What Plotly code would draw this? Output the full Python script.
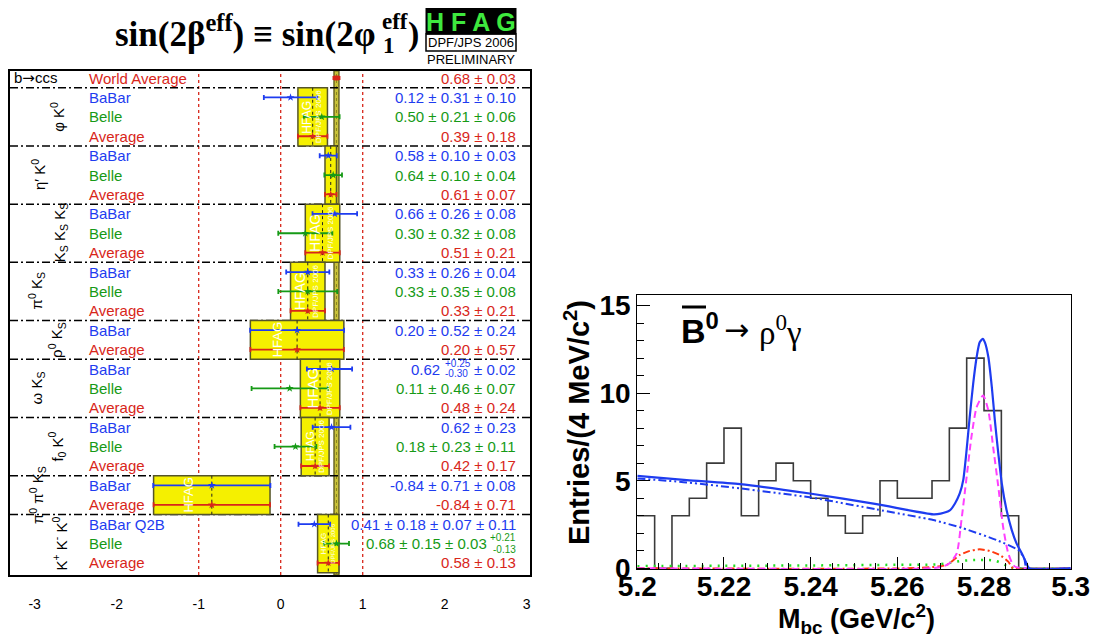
import math
import plotly.graph_objects as go

W, H = 1099, 636
OFF = 8  # page body margin offset of the rendered div
def px(x): return (x - OFF) / W
def py(y): return 1 - (y - OFF) / H

BLUE = "#1e3cf0"
GREEN = "#169a16"
RED = "#d8261a"
YELLOW = "#f5f000"
SRC_COLOR = {"babar": BLUE, "belle": GREEN, "avg": RED}
FONT = "Liberation Sans"
SERIF = "Liberation Serif"

# ---------------- left panel data ----------------
row_labels = ["World Average",
              "BaBar", "Belle", "Average",
              "BaBar", "Belle", "Average",
              "BaBar", "Belle", "Average",
              "BaBar", "Belle", "Average",
              "BaBar", "Average",
              "BaBar", "Belle", "Average",
              "BaBar", "Belle", "Average",
              "BaBar", "Average",
              "BaBar Q2B", "Belle", "Average"]
row_source = ["avg",
              "babar", "belle", "avg",
              "babar", "belle", "avg",
              "babar", "belle", "avg",
              "babar", "belle", "avg",
              "babar", "avg",
              "babar", "belle", "avg",
              "babar", "belle", "avg",
              "babar", "avg",
              "babar", "belle", "avg"]
row_value = [0.68,
             0.12, 0.50, 0.39,
             0.58, 0.64, 0.61,
             0.66, 0.30, 0.51,
             0.33, 0.33, 0.33,
             0.20, 0.20,
             0.62, 0.11, 0.48,
             0.62, 0.18, 0.42,
             -0.84, -0.84,
             0.41, 0.68, 0.58]
stat_plus = [0.03,
             0.31, 0.21, 0.18,
             0.10, 0.10, 0.07,
             0.26, 0.32, 0.21,
             0.26, 0.35, 0.21,
             0.52, 0.57,
             0.25, 0.46, 0.24,
             0.23, 0.23, 0.17,
             0.71, 0.71,
             0.18, 0.15, 0.13]
stat_minus = [0.03,
              0.31, 0.21, 0.18,
              0.10, 0.10, 0.07,
              0.26, 0.32, 0.21,
              0.26, 0.35, 0.21,
              0.52, 0.57,
              0.30, 0.46, 0.24,
              0.23, 0.23, 0.17,
              0.71, 0.71,
              0.18, 0.15, 0.13]
syst = [0.0,
        0.10, 0.06, 0.0,
        0.03, 0.04, 0.0,
        0.08, 0.08, 0.0,
        0.04, 0.08, 0.0,
        0.24, 0.0,
        0.02, 0.07, 0.0,
        0.0, 0.11, 0.0,
        0.08, 0.0,
        0.07, 0.03, 0.0]
value_text = ["0.68 ± 0.03",
              "0.12 ± 0.31 ± 0.10", "0.50 ± 0.21 ± 0.06", "0.39 ± 0.18",
              "0.58 ± 0.10 ± 0.03", "0.64 ± 0.10 ± 0.04", "0.61 ± 0.07",
              "0.66 ± 0.26 ± 0.08", "0.30 ± 0.32 ± 0.08", "0.51 ± 0.21",
              "0.33 ± 0.26 ± 0.04", "0.33 ± 0.35 ± 0.08", "0.33 ± 0.21",
              "0.20 ± 0.52 ± 0.24", "0.20 ± 0.57",
              None, "0.11 ± 0.46 ± 0.07", "0.48 ± 0.24",
              "0.62 ± 0.23", "0.18 ± 0.23 ± 0.11", "0.42 ± 0.17",
              "-0.84 ± 0.71 ± 0.08", "-0.84 ± 0.71",
              "0.41 ± 0.18 ± 0.07 ± 0.11", None, "0.58 ± 0.13"]
# rows whose value text carries stacked asymmetric errors
special_main = {15: "0.62", 24: "0.68 ± 0.15 ± 0.03"}
special_stack = {15: ("+0.25", "-0.30"), 24: ("+0.21", "-0.13")}
special_tail = {15: "± 0.02", 24: ""}

group_labels = ["φ K<sup>0</sup>", "η′ K<sup>0</sup>",
                "K<sub>S</sub> K<sub>S</sub> K<sub>S</sub>",
                "π<sup>0</sup> K<sub>S</sub>", "ρ<sup>0</sup> K<sub>S</sub>",
                "ω K<sub>S</sub>", "f<sub>0</sub> K<sup>0</sup>",
                "π<sup>0</sup> π<sup>0</sup> K<sub>S</sub>",
                "K<sup>+</sup> K<sup>-</sup> K<sup>0</sup>"]
group_sizes = [3, 3, 3, 3, 2, 3, 3, 2, 3]
group_label_px = [58, 38, 60, 36, 57, 37, 57, 37, 60]   # label x position (px)

ref_lines = [-1, 0, 1]
x_ticks = [-3, -2, -1, 0, 1, 2, 3]
x_tick_labels = ["-3", "-2", "-1", "0", "1", "2", "3"]

# ---------------- right panel data ----------------
bin_edges = [5.200, 5.204, 5.208, 5.212, 5.216, 5.220, 5.224, 5.228, 5.232,
             5.236, 5.240, 5.244, 5.248, 5.252, 5.256, 5.260, 5.264, 5.268,
             5.272, 5.276, 5.280, 5.284, 5.288, 5.292, 5.296, 5.300]
hist_counts = [3, 0, 3, 4, 6, 8, 3, 5, 6, 5, 4, 3, 2, 3, 5, 4, 4, 5, 8, 12,
               9, 3, 0, 0, 0]

fit_x = [5.2000, 5.2114, 5.2237, 5.2398, 5.2552, 5.2683, 5.2700, 5.2721,
         5.2733, 5.2744, 5.2752, 5.2759, 5.2767, 5.2775, 5.2783, 5.2790,
         5.2797, 5.2802, 5.2810, 5.2818, 5.2825, 5.2833, 5.2841, 5.2852,
         5.2864, 5.2875, 5.2887, 5.2898, 5.2904, 5.3000]
fit_y = [5.28, 5.03, 4.80, 4.27, 3.66, 3.08, 3.12, 3.30,
         3.70, 4.27, 5.03, 6.55, 8.64, 10.54, 12.06, 12.90,
         13.10, 12.90, 12.06, 10.35, 8.45, 6.55, 4.84, 3.32,
         2.18, 1.42, 0.85, 0.28, 0.00, 0.00]
bkg_x = [5.2000, 5.2114, 5.2237, 5.2398, 5.2552, 5.2683, 5.2752, 5.2829,
         5.2879, 5.2893, 5.2898, 5.3000]
bkg_y = [5.13, 4.90, 4.56, 4.05, 3.36, 2.75, 2.28, 1.61, 1.04, 0.55, 0.00, 0.00]
sig_x = [5.2000, 5.2680, 5.2706, 5.2721, 5.2737, 5.2748, 5.2759, 5.2771,
         5.2783, 5.2798, 5.2810, 5.2821, 5.2833, 5.2844, 5.2856, 5.2871, 5.3000]
sig_y = [0.00, 0.00, 0.10, 0.30, 0.85, 2.75, 5.03, 7.50,
         9.20, 9.87, 9.00, 6.93, 4.65, 2.37, 0.85, 0.10, 0.00]
bb_x = [5.2000, 5.2650, 5.2714, 5.2744, 5.2767, 5.2790, 5.2813, 5.2836,
        5.2856, 5.2867, 5.3000]
bb_y = [0.00, 0.02, 0.19, 0.76, 0.99, 1.08, 0.99, 0.76, 0.38, 0.00, 0.00]
oth_x = [5.2000, 5.2200, 5.2400, 5.2600, 5.2700, 5.2752, 5.2790, 5.2825,
         5.2856, 5.2871, 5.3000]
oth_y = [0.12, 0.14, 0.16, 0.20, 0.24, 0.43, 0.47, 0.43, 0.10, 0.00, 0.00]

# ---------------- build figure ----------------
err_p = [math.hypot(a, b) for a, b in zip(stat_plus, syst)]
err_m = [math.hypot(a, b) for a, b in zip(stat_minus, syst)]
rows = list(range(len(row_labels)))

X0_PX, X1_PX = 10, 530
XR = [-3.301, 3.040]
def xdata_to_px(v):
    return X0_PX + (v - XR[0]) / (XR[1] - XR[0]) * (X1_PX - X0_PX)

fig = go.Figure()
shapes = []
annotations = []

# group boxes
group_ranges = []
start = 1
for g, n in enumerate(group_sizes):
    end = start + n - 1
    group_ranges.append((start, end))
    start = end + 1

for (s, e) in group_ranges:
    avg = row_value[e]
    er = stat_plus[e]
    shapes.append(dict(type="rect", xref="x", yref="y", x0=avg - er, x1=avg + er,
                       y0=s - 0.5, y1=e + 0.5, fillcolor=YELLOW,
                       line=dict(color="#55552a", width=1.5), layer="below"))
for (s, e) in group_ranges:
    avg = row_value[e]
    shapes.append(dict(type="line", xref="x", yref="y", x0=avg, x1=avg,
                       y0=s - 0.5, y1=e + 0.5,
                       line=dict(color="#222222", width=1, dash="dot"), layer="below"))

# world average band
wa, wa_e = row_value[0], stat_plus[0]
shapes.append(dict(type="rect", xref="x", yref="y domain", x0=wa - wa_e, x1=wa + wa_e,
                   y0=0, y1=1, fillcolor="#c9c238",
                   line=dict(color="#6a6628", width=1.5), layer="below"))
shapes.append(dict(type="line", xref="x", yref="y domain", x0=wa, x1=wa, y0=0, y1=1,
                   line=dict(color="#8a8420", width=1, dash="dot"), layer="below"))

# red reference lines
for v in ref_lines:
    shapes.append(dict(type="line", xref="x", yref="y domain", x0=v, x1=v, y0=0, y1=1,
                       line=dict(color=RED, width=1.3, dash="3px,3px"), layer="below"))
# separators
for (s, e) in group_ranges:
    shapes.append(dict(type="line", xref="x domain", yref="y", x0=0, x1=1,
                       y0=s - 0.5, y1=s - 0.5,
                       line=dict(color="black", width=1.5, dash="8px,3px,2px,3px"),
                       layer="below"))

# watermark text in boxes
for (s, e) in group_ranges:
    avg = row_value[e]
    er = stat_plus[e]
    wpx = xdata_to_px(avg + er) - xdata_to_px(avg - er)
    hpx = (e - s + 1) * 19.4
    fs = int(min(15, wpx * 0.42, hpx / 2.9))
    if fs >= 7:
        annotations.append(dict(x=avg - er * 0.4, y=(s + e) / 2, xref="x", yref="y",
                                text="HFAG", textangle=-90, showarrow=False,
                                font=dict(family=FONT, size=fs, color="white")))
        fs2 = int(min(fs * 0.8, hpx / 6.9))
        if fs2 >= 6:
            annotations.append(dict(x=avg + er * 0.45, y=(s + e) / 2, xref="x", yref="y",
                                    text="DPF/JPS 2006", textangle=-90, showarrow=False,
                                    font=dict(family=FONT, size=fs2, color="white")))

# error-bar traces
for src in ["babar", "belle", "avg"]:
    idx = [i for i in rows if row_source[i] == src and i != 0]
    c = SRC_COLOR[src]
    fig.add_trace(go.Scatter(
        x=[row_value[i] for i in idx], y=idx, mode="markers",
        marker=dict(symbol="star", size=6, color=c),
        error_x=dict(type="data", symmetric=False,
                     array=[err_p[i] for i in idx],
                     arrayminus=[err_m[i] for i in idx],
                     color=c, thickness=1.8, width=2.5),
        xaxis="x", yaxis="y", showlegend=False, hoverinfo="skip"))
fig.add_trace(go.Scatter(
    x=[row_value[0]], y=[0], mode="markers",
    marker=dict(symbol="square", size=5, color=RED),
    error_x=dict(type="data", array=[err_p[0]], color=RED, thickness=3, width=2),
    xaxis="x", yaxis="y", showlegend=False, hoverinfo="skip"))

# row labels + values
for i in rows:
    c = SRC_COLOR[row_source[i]]
    annotations.append(dict(x=px(87), y=i, xref="paper", yref="y", xanchor="left",
                            yanchor="middle", text=row_labels[i], showarrow=False,
                            font=dict(family=FONT, size=15, color=c)))
    if value_text[i] is not None:
        annotations.append(dict(x=px(518), y=i, xref="paper", yref="y", xanchor="right",
                                yanchor="middle", text=value_text[i], showarrow=False,
                                font=dict(family=FONT, size=15, color=c)))

# special asymmetric-error rows
c = SRC_COLOR[row_source[15]]
annotations.append(dict(x=px(518), y=15, xref="paper", yref="y", xanchor="right",
                        yanchor="middle", text=special_tail[15], showarrow=False,
                        font=dict(family=FONT, size=15, color=c)))
annotations.append(dict(x=px(443), y=15 - 0.28, xref="paper", yref="y", xanchor="left",
                        yanchor="middle", text=special_stack[15][0], showarrow=False,
                        font=dict(family=FONT, size=10, color=c)))
annotations.append(dict(x=px(443), y=15 + 0.24, xref="paper", yref="y", xanchor="left",
                        yanchor="middle", text=special_stack[15][1], showarrow=False,
                        font=dict(family=FONT, size=10, color=c)))
annotations.append(dict(x=px(442), y=15, xref="paper", yref="y", xanchor="right",
                        yanchor="middle", text=special_main[15], showarrow=False,
                        font=dict(family=FONT, size=15, color=c)))
c = SRC_COLOR[row_source[24]]
annotations.append(dict(x=px(489), y=24, xref="paper", yref="y", xanchor="right",
                        yanchor="middle", text=special_main[24], showarrow=False,
                        font=dict(family=FONT, size=15, color=c)))
annotations.append(dict(x=px(518), y=24 - 0.3, xref="paper", yref="y", xanchor="right",
                        yanchor="middle", text=special_stack[24][0], showarrow=False,
                        font=dict(family=FONT, size=10, color=c)))
annotations.append(dict(x=px(518), y=24 + 0.32, xref="paper", yref="y", xanchor="right",
                        yanchor="middle", text=special_stack[24][1], showarrow=False,
                        font=dict(family=FONT, size=10, color=c)))

# group labels
for g, (s, e) in enumerate(group_ranges):
    annotations.append(dict(x=px(group_label_px[g]), y=(s + e) / 2, xref="paper", yref="y",
                            xanchor="center", yanchor="middle", text=group_labels[g],
                            textangle=-90, showarrow=False,
                            font=dict(family=FONT, size=15, color="black")))
annotations.append(dict(x=px(12), y=0, xref="paper", yref="y", xanchor="left",
                        yanchor="middle",
                        text="b<span style='font-family:DejaVu Sans'>→</span>ccs",
                        showarrow=False,
                        font=dict(family=FONT, size=15, color="black")))

# title
def tann(text, xp, yp, size, anchor="left"):
    annotations.append(dict(x=px(xp), y=py(yp), xref="paper", yref="paper",
                            xanchor=anchor, yanchor="middle", text=text, showarrow=False,
                            font=dict(family=SERIF, size=size, color="black", weight="bold")))
tann("sin(2β<sup>eff</sup>) ≡ sin(2φ", 378, 31, 35, anchor="right")
tann("eff", 380, 21, 23)
tann("1", 381, 45, 23)
tann(")", 406, 34, 34)

# HFAG logo
shapes.append(dict(type="rect", xref="paper", yref="paper", x0=px(426), x1=px(516),
                   y0=py(34), y1=py(8), fillcolor="black", line=dict(color="black", width=1)))
shapes.append(dict(type="rect", xref="paper", yref="paper", x0=px(426), x1=px(516),
                   y0=py(51), y1=py(34), fillcolor="rgba(0,0,0,0)",
                   line=dict(color="black", width=1.5)))
annotations.append(dict(x=px(471), y=py(21.5), xref="paper", yref="paper", xanchor="center",
                        yanchor="middle", text="H F A G", showarrow=False,
                        font=dict(family=FONT, size=25, color="#3ee83e", weight="bold")))
annotations.append(dict(x=px(471), y=py(42.5), xref="paper", yref="paper", xanchor="center",
                        yanchor="middle", text="DPF/JPS 2006", showarrow=False,
                        font=dict(family=FONT, size=13, color="black")))
annotations.append(dict(x=px(471), y=py(60), xref="paper", yref="paper", xanchor="center",
                        yanchor="middle", text="PRELIMINARY", showarrow=False,
                        font=dict(family=FONT, size=13, color="black")))

# ---------------- right panel ----------------
fig.add_trace(go.Scatter(x=bin_edges, y=hist_counts + [hist_counts[-1]], mode="lines",
                         line=dict(color="#3a3a3a", width=1.6, shape="hv"),
                         xaxis="x2", yaxis="y2", showlegend=False, hoverinfo="skip"))
fig.add_trace(go.Scatter(x=oth_x, y=oth_y, mode="lines",
                         line=dict(color="#22dd22", width=2.5, dash="2px,6px", shape="spline"),
                         xaxis="x2", yaxis="y2", showlegend=False, hoverinfo="skip"))
fig.add_trace(go.Scatter(x=bb_x, y=bb_y, mode="lines",
                         line=dict(color="#ff3a10", width=2, dash="7px,3px,2px,3px",
                                   shape="spline", smoothing=0.6),
                         xaxis="x2", yaxis="y2", showlegend=False, hoverinfo="skip"))
fig.add_trace(go.Scatter(x=sig_x, y=sig_y, mode="lines",
                         line=dict(color="#ff40ff", width=2, dash="7px,4px",
                                   shape="spline", smoothing=0.6),
                         xaxis="x2", yaxis="y2", showlegend=False, hoverinfo="skip"))
fig.add_trace(go.Scatter(x=bkg_x, y=bkg_y, mode="lines",
                         line=dict(color=BLUE, width=2, dash="8px,3px,2px,3px,2px,3px",
                                   shape="spline", smoothing=0.5),
                         xaxis="x2", yaxis="y2", showlegend=False, hoverinfo="skip"))
fig.add_trace(go.Scatter(x=fit_x, y=fit_y, mode="lines",
                         line=dict(color=BLUE, width=2.2, shape="spline", smoothing=0.6),
                         xaxis="x2", yaxis="y2", showlegend=False, hoverinfo="skip"))

# right panel texts
def bann(text, xp, yp, size, family=FONT, weight="bold", angle=0, anchor="center"):
    annotations.append(dict(x=px(xp), y=py(yp), xref="paper", yref="paper",
                            xanchor=anchor, yanchor="middle", text=text, showarrow=False,
                            textangle=angle,
                            font=dict(family=family, size=size, color="black", weight=weight)))
bann("B<sup>0</sup>", 679, 328, 34, anchor="left")
shapes.append(dict(type="line", xref="paper", yref="paper", x0=px(682), x1=px(706),
                   y0=py(307), y1=py(307), line=dict(color="black", width=3)))
bann("→", 722, 329, 30, family="DejaVu Sans", weight="normal", anchor="left")
bann("ρ<sup>0</sup>γ", 757, 330, 33, family=SERIF, weight="normal", anchor="left")
bann("Entries/(4 MeV/c<sup>2</sup>)", 577, 423, 29, angle=-90)
bann("M<sub>bc</sub> (GeV/c<sup>2</sup>)", 856, 619, 27)

fig.update_layout(
    width=W, height=H, margin=dict(l=0, r=0, t=0, b=0, autoexpand=False),
    paper_bgcolor="white", plot_bgcolor="white",
    showlegend=False,
    xaxis=dict(domain=[px(X0_PX), px(X1_PX)], range=XR, tickvals=x_ticks,
               ticktext=x_tick_labels, ticks="", ticklen=0, showline=True, mirror=True,
               linecolor="black", linewidth=1.5, showgrid=False, zeroline=False,
               tickfont=dict(family=FONT, size=14, color="black"),
               ticklabelstandoff=15, anchor="y", automargin=False),
    yaxis=dict(domain=[py(575), py(70.7)], range=[25.62, -0.38], showticklabels=False,
               ticks="", showline=True, mirror=True, linecolor="black", linewidth=1.5,
               showgrid=False, zeroline=False, anchor="x", automargin=False),
    xaxis2=dict(domain=[px(637.3), px(1070.7)], range=[5.2, 5.3], tick0=5.2, dtick=0.02,
                ticks="inside", ticklen=12, tickwidth=1.2, tickcolor="black",
                minor=dict(tick0=5.2, dtick=0.005, ticks="inside", ticklen=6,
                           tickwidth=1, tickcolor="black"),
                showline=True, mirror=True, linecolor="black", linewidth=1.3,
                showgrid=False, zeroline=False, ticklabelstandoff=-8,
                tickfont=dict(family=FONT, size=28, color="black", weight="bold"),
                anchor="y2", automargin=False),
    yaxis2=dict(domain=[py(569.3), py(294.7)], range=[-0.06, 15.62], tick0=0, dtick=5,
                ticks="inside", ticklen=13, tickwidth=1.2, tickcolor="black",
                minor=dict(tick0=0, dtick=1, ticks="inside", ticklen=7,
                           tickwidth=1, tickcolor="black"),
                showline=True, mirror=True, linecolor="black", linewidth=1.3,
                showgrid=False, zeroline=False,
                tickfont=dict(family=FONT, size=28, color="black", weight="bold"),
                anchor="x2", automargin=False),
    shapes=shapes, annotations=annotations,
)

fig.write_html("out.html")
